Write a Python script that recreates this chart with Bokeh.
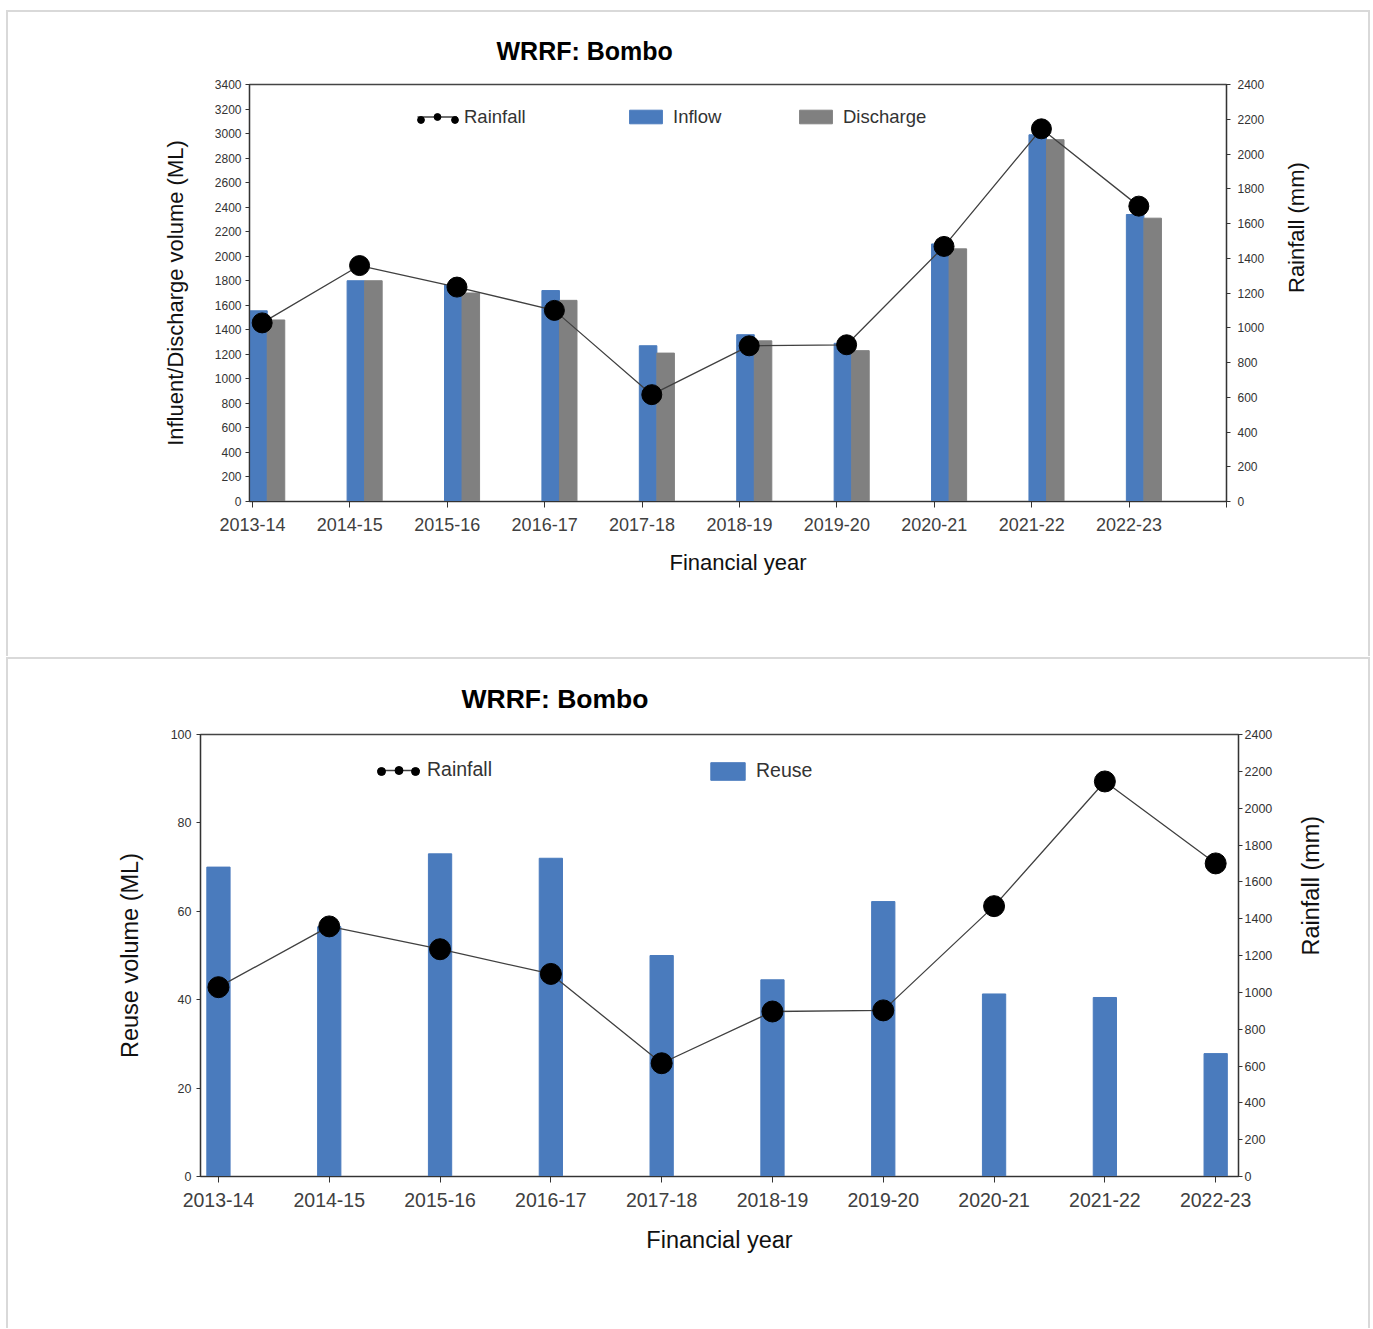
import math
from bokeh.plotting import figure
from bokeh.models import (LinearAxis, Range1d, FixedTicker, Legend, LegendItem,
                          Title, ColumnDataSource)
from bokeh.transform import dodge
from bokeh.embed import file_html
from bokeh.resources import INLINE

# ---------------- data ----------------
years = ["2013-14", "2014-15", "2015-16", "2016-17", "2017-18",
         "2018-19", "2019-20", "2020-21", "2021-22", "2022-23"]
inflow = [1555, 1800, 1765, 1720, 1270, 1360, 1290, 2100, 2990, 2340]
discharge = [1480, 1800, 1700, 1640, 1210, 1310, 1230, 2060, 2950, 2310]
rainfall = [1028, 1358, 1234, 1100, 615, 896, 902, 1468, 2145, 1700]
reuse = [70, 56.5, 73, 72, 50, 44.5, 62.2, 41.3, 40.5, 27.8]
volume_ticks = list(range(0, 3401, 200))
rain_ticks = list(range(0, 2401, 200))
reuse_ticks = [0, 20, 40, 60, 80, 100]
title_text = "WRRF: Bombo"

FONT = "Liberation Sans"
BLUE = "#4a7bbd"
GREY = "#808080"
LINE = "#404040"
PANEL = "#d9d9d9"


def panel_lines(top, height):
    g = f"linear-gradient({PANEL},{PANEL})"
    return {
        "background": (
            f"{g} 6px {top}px / 1364px 2px no-repeat, "
            f"{g} 6px {top}px / 2px {height}px no-repeat, "
            f"{g} 1368px {top}px / 2px {height}px no-repeat, white"
        )
    }


def base_axis(ax, label_size, tick_out, standoff):
    ax.axis_line_color = "#333333"
    ax.axis_line_width = 1.2
    ax.major_tick_line_color = "#333333"
    ax.major_tick_in = 0
    ax.major_tick_out = tick_out
    ax.minor_tick_line_color = None
    ax.major_label_text_font = FONT
    ax.major_label_text_font_size = label_size
    ax.major_label_text_color = "#333333"
    ax.major_label_standoff = standoff
    ax.axis_label_text_font = FONT
    ax.axis_label_text_font_style = "normal"
    ax.axis_label_text_color = "#111111"


def make_legend(p, label, renderers, x, y, gw, gh, fsize):
    lg = Legend(items=[LegendItem(label=label, renderers=renderers)],
                location=(x, y), orientation="horizontal",
                glyph_width=gw, glyph_height=gh, label_height=gh,
                label_standoff=7, padding=0, margin=0, spacing=0,
                border_line_alpha=0, background_fill_alpha=0,
                label_text_font=FONT, label_text_font_size=fsize,
                label_text_color="#333333")
    p.add_layout(lg)


def right_label(ax, text, size, standoff):
    ax.axis_label = text
    ax.axis_label_text_font_size = size
    ax.axis_label_standoff = standoff
    try:
        ax.axis_label_orientation = math.pi / 2
    except Exception:
        pass


# ================= top chart =================
src1 = ColumnDataSource(dict(x=list(range(len(years))), inflow=inflow,
                             discharge=discharge, rain=rainfall))

p1 = figure(width=1370, height=656, x_range=Range1d(-0.03, 10.0),
            y_range=Range1d(0, 3400), output_backend="svg",
            toolbar_location=None, min_border_left=249, min_border_right=144,
            min_border_top=84, min_border_bottom=155)
p1.extra_y_ranges = {"rain": Range1d(0, 2400)}
p1.grid.visible = False
p1.outline_line_color = "#444444"
p1.outline_line_width = 1.4
p1.background_fill_color = "white"
p1.border_fill_color = None
p1.styles = panel_lines(10, 646)
p1.title = Title(text=title_text, align="left", offset=247, standoff=40,
                 text_font=FONT, text_font_size="25px", text_font_style="bold",
                 text_color="black")

rb = p1.vbar(x=dodge("x", 0.062), top="inflow", width=0.18, source=src1,
             fill_color=BLUE, line_color=BLUE)
rg = p1.vbar(x=dodge("x", 0.242), top="discharge", width=0.18, source=src1,
             fill_color=GREY, line_color=GREY)
rl = p1.line(x=dodge("x", 0.1), y="rain", y_range_name="rain", source=src1,
             line_color=LINE, line_width=1.3)
rs = p1.scatter(x=dodge("x", 0.1), y="rain", y_range_name="rain", source=src1,
                size=20, fill_color="black", line_color="black")

xa = p1.xaxis[0]
xa.ticker = FixedTicker(ticks=list(range(len(years) + 1)))
xa.major_label_overrides = {i: y for i, y in enumerate(years)} | {len(years): ""}
base_axis(xa, "18px", 6, 10)
xa.major_label_text_color = "#404040"
xa.axis_label = "Financial year"
xa.axis_label_text_font_size = "22px"
xa.axis_label_standoff = 16

ya = p1.yaxis[0]
ya.ticker = FixedTicker(ticks=volume_ticks)
base_axis(ya, "12px", 4, 4)
ya.axis_label = "Influent/Discharge volume (ML)"
ya.axis_label_text_font_size = "22px"
ya.axis_label_standoff = 24

ra = LinearAxis(y_range_name="rain", ticker=FixedTicker(ticks=rain_ticks))
base_axis(ra, "12px", 4, 7)
right_label(ra, "Rainfall (mm)", "22px", 29)
p1.add_layout(ra, "right")

# legends (frame-relative pixel positions)
make_legend(p1, "Rainfall", [rl, rs], 168, 373.5, 40, 17, "18.5px")
make_legend(p1, " ", [rs], 162.5, 373.5, 17, 17, "18.5px")
make_legend(p1, " ", [rs], 196.5, 373.5, 17, 17, "18.5px")
make_legend(p1, "Inflow", [rb], 376, 373.5, 41, 17, "18.5px")
make_legend(p1, "Discharge", [rg], 546, 373.5, 41, 17, "18.5px")

# ================= bottom chart =================
src2 = ColumnDataSource(dict(x=list(range(len(years))), reuse=reuse,
                             rain=rainfall))

p2 = figure(width=1370, height=672, x_range=Range1d(-0.162, 9.206),
            y_range=Range1d(0, 100), output_backend="svg",
            toolbar_location=None, min_border_left=200, min_border_right=132,
            min_border_top=78, min_border_bottom=152)
p2.extra_y_ranges = {"rain": Range1d(0, 2400)}
p2.grid.visible = False
p2.outline_line_color = "#444444"
p2.outline_line_width = 1.4
p2.background_fill_color = "white"
p2.border_fill_color = None
p2.styles = panel_lines(1, 671)
p2.title = Title(text=title_text, align="left", offset=261, standoff=42,
                 text_font=FONT, text_font_size="26.5px", text_font_style="bold",
                 text_color="black")

rr = p2.vbar(x="x", top="reuse", width=0.21, source=src2,
             fill_color=BLUE, line_color=BLUE)
rl2 = p2.line(x="x", y="rain", y_range_name="rain", source=src2,
              line_color=LINE, line_width=1.3)
rs2 = p2.scatter(x="x", y="rain", y_range_name="rain", source=src2,
                 size=21, fill_color="black", line_color="black")

xb = p2.xaxis[0]
xb.ticker = FixedTicker(ticks=list(range(len(years))))
xb.major_label_overrides = {i: y for i, y in enumerate(years)}
base_axis(xb, "19.5px", 6, 10)
xb.major_label_text_color = "#404040"
xb.axis_label = "Financial year"
xb.axis_label_text_font_size = "23.5px"
xb.axis_label_standoff = 17

yb = p2.yaxis[0]
yb.ticker = FixedTicker(ticks=reuse_ticks)
base_axis(yb, "12.5px", 4, 5)
yb.axis_label = "Reuse volume (ML)"
yb.axis_label_text_font_size = "23.5px"
yb.axis_label_standoff = 25

rb2 = LinearAxis(y_range_name="rain", ticker=FixedTicker(ticks=rain_ticks))
base_axis(rb2, "12.5px", 4, 2)
right_label(rb2, "Rainfall (mm)", "23.5px", 36)
p2.add_layout(rb2, "right")

make_legend(p2, "Rainfall", [rl2, rs2], 177, 395, 43, 20, "19.5px")
make_legend(p2, " ", [rs2], 171, 395, 20, 20, "19.5px")
make_legend(p2, " ", [rs2], 205, 395, 20, 20, "19.5px")
make_legend(p2, "Reuse", [rr], 506, 394, 43, 22, "19.5px")

open("out.html", "w").write(file_html([p1, p2], INLINE))
